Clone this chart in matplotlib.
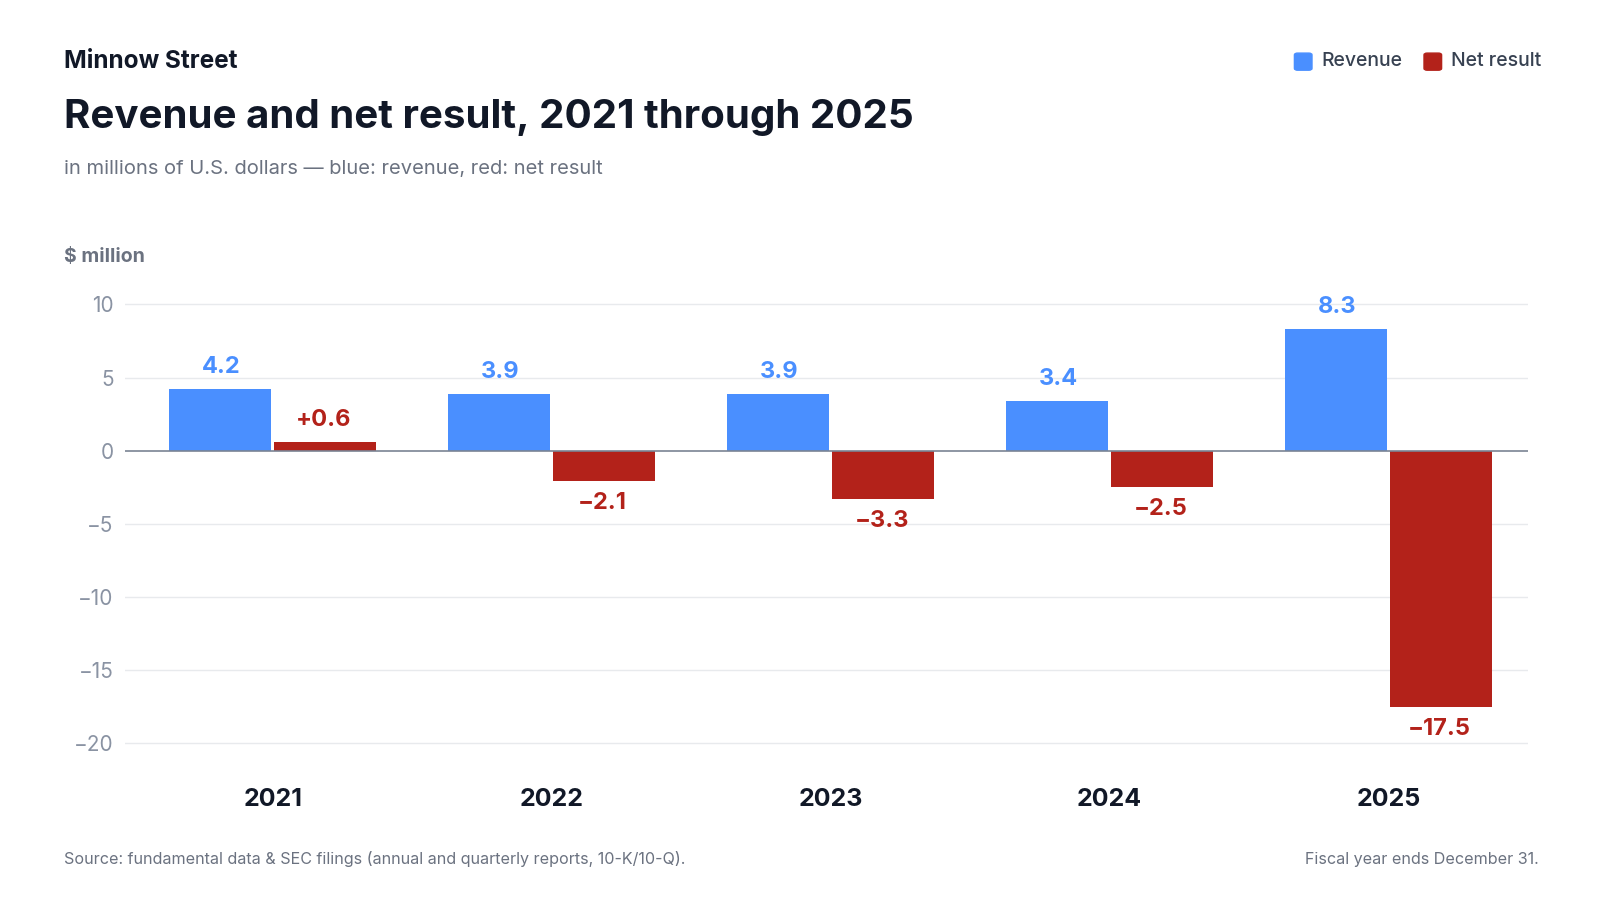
import matplotlib
matplotlib.use("Agg")
import matplotlib.pyplot as plt
import numpy as np

plt.rcParams['font.family'] = ['Inter', 'DejaVu Sans']

years = ['2021', '2022', '2023', '2024', '2025']
revenue = [4.2, 3.9, 3.9, 3.4, 8.3]
net = [0.6, -2.1, -3.3, -2.5, -17.5]
yticks = [10, 5, 0, -5, -10, -15, -20]

blue = '#4A8FFF'
red = '#B3221A'
dark = '#111827'
gray = '#6B7280'

fig = plt.figure(figsize=(16, 9), dpi=100)
ax = fig.add_axes([0.078, 0.158, 0.877, 0.520])

x = np.arange(len(years))
w = 0.366
ax.bar(x - w / 2 - 0.005, revenue, w, color=blue, zorder=3)
ax.bar(x + w / 2 + 0.005, net, w, color=red, zorder=3)

for i in range(len(years)):
    ax.annotate(f"{revenue[i]:.1f}", (x[i] - w / 2, revenue[i]), xytext=(0, 8),
                textcoords='offset points', ha='center', va='bottom',
                color=blue, fontsize=17, fontweight='bold')
    if net[i] >= 0:
        ax.annotate(f"+{net[i]:.1f}", (x[i] + w / 2, net[i]), xytext=(0, 8),
                    textcoords='offset points', ha='center', va='bottom',
                    color=red, fontsize=17, fontweight='bold')
    else:
        ax.annotate(f"\u2212{abs(net[i]):.1f}", (x[i] + w / 2, net[i]), xytext=(0, -8),
                    textcoords='offset points', ha='center', va='top',
                    color=red, fontsize=17, fontweight='bold')

ax.set_xlim(-0.53, 4.50)
ax.set_ylim(-21, 11)
ax.set_yticks(yticks)
ax.set_yticklabels([f"\u2212{abs(v)}" if v < 0 else str(v) for v in yticks],
                   color='#8A93A3', fontsize=15)
ax.set_xticks(x)
ax.set_xticklabels(years, fontsize=18, fontweight='bold', color=dark)
ax.tick_params(axis='y', length=0, pad=8)
ax.tick_params(axis='x', length=0, pad=22)
for v in yticks:
    if v != 0:
        ax.axhline(v, color='#E8EAED', lw=1, zorder=1)
ax.axhline(0, color='#7A8494', lw=1.2, zorder=4)
for s in ax.spines.values():
    s.set_visible(False)

fig.text(0.040, 0.932, "Minnow Street", fontsize=17.5, fontweight='bold', color=dark, va='center')
fig.text(0.040, 0.869, "Revenue and net result, 2021 through 2025", fontsize=29,
         fontweight='bold', color=dark, va='center')
fig.text(0.040, 0.8125, "in millions of U.S. dollars \u2014 blue: revenue, red: net result",
         fontsize=14.5, color=gray, va='center')
fig.text(0.040, 0.714, "$ million", fontsize=14, fontweight='bold', color=gray, va='center')
fig.text(0.040, 0.0455, "Source: fundamental data & SEC filings (annual and quarterly reports, 10-K/10-Q).",
         fontsize=11.6, color=gray, va='center')
fig.text(0.9617, 0.0455, "Fiscal year ends December 31.", fontsize=11.6, color=gray,
         va='center', ha='right')

# legend
fig.patches.append(matplotlib.patches.FancyBboxPatch((0.809, 0.922), 0.011, 0.019,
                   boxstyle='round,pad=0,rounding_size=0.002', transform=fig.transFigure,
                   color=blue))
fig.text(0.826, 0.932, "Revenue", fontsize=14, fontweight='medium', color='#374151', va='center')
fig.patches.append(matplotlib.patches.FancyBboxPatch((0.890, 0.922), 0.011, 0.019,
                   boxstyle='round,pad=0,rounding_size=0.002', transform=fig.transFigure,
                   color=red))
fig.text(0.907, 0.932, "Net result", fontsize=14, fontweight='medium', color='#374151', va='center')

fig.savefig('out.png', dpi=100, facecolor='white')
